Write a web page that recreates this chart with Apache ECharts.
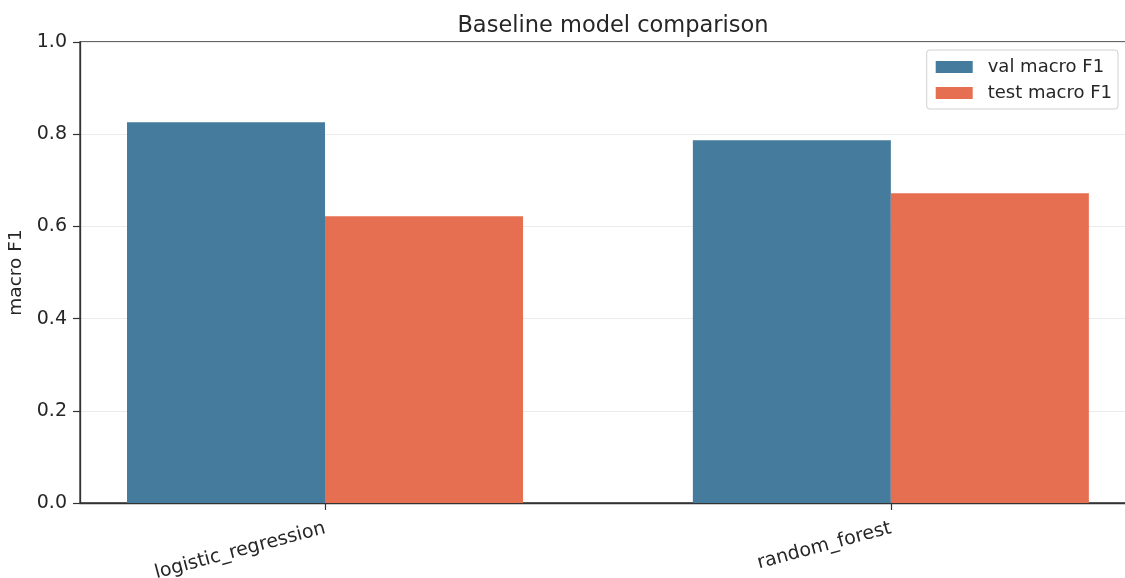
<!DOCTYPE html>
<html>
<head>
<meta charset="utf-8">
<script src="https://cdn.jsdelivr.net/npm/echarts@6/dist/echarts.min.js"></script>
<style>
html,body{margin:0;padding:0;background:#fff;}
#chart{width:1125px;height:578px;}
</style>
</head>
<body>
<div id="chart"></div>
<script>
var categories = ['logistic_regression', 'random_forest'];
var valMacroF1 = [0.826, 0.787];
var testMacroF1 = [0.622, 0.672];
var yTicks = [0.0, 0.2, 0.4, 0.6, 0.8, 1.0];
var seriesNames = ['val macro F1', 'test macro F1'];

var FONT = 'DejaVu Sans';
var TXT = '#262626';

function toPoints(arr) {
  return arr.map(function (v, i) { return [i, v]; });
}

var chart = echarts.init(document.getElementById('chart'), null, {renderer: 'canvas'});
chart.setOption({
  animation: false,
  backgroundColor: '#fff',
  title: {
    text: 'Baseline model comparison',
    left: 608, textAlign: 'center',
    top: 10,
    textStyle: {fontFamily: FONT, fontSize: 22.5, fontWeight: 'normal', color: TXT}
  },
  legend: {
    orient: 'vertical',
    right: 7, top: 50,
    data: seriesNames,
    itemWidth: 37, itemHeight: 12,
    itemGap: 8,
    icon: 'rect',
    padding: [8, 6, 7, 9],
    borderColor: '#d0d0d0', borderWidth: 1, borderRadius: 3,
    backgroundColor: 'rgba(255,255,255,0.8)',
    textStyle: {fontFamily: FONT, fontSize: 18, color: TXT, padding: [0, 0, 0, 10]}
  },
  grid: {
    left: 80, right: -12, top: 42, bottom: 75,
    outerBoundsMode: 'none',
    containLabel: false,
    show: true, borderColor: '#333', borderWidth: 1.3, backgroundColor: 'transparent'
  },
  xAxis: {
    type: 'value',
    min: -0.433, max: 1.435,
    axisLine: {show: true, onZero: false, lineStyle: {color: '#333', width: 1.3}},
    axisTick: {show: true, inside: false, customValues: [0, 1], length: 7, lineStyle: {color: '#333', width: 1.2}},
    axisLabel: {
      customValues: [0, 1],
      rotate: 15,
      margin: 25,
      fontFamily: FONT, fontSize: 19, color: TXT,
      formatter: function (v) { return categories[Math.round(v)]; }
    },
    splitLine: {show: false}
  },
  yAxis: {
    type: 'value',
    min: 0, max: 1.0, interval: 0.2,
    name: 'macro F1',
    nameLocation: 'middle',
    nameGap: 54,
    nameTextStyle: {fontFamily: FONT, fontSize: 18.5, color: TXT},
    axisLine: {show: true, onZero: false, lineStyle: {color: '#333', width: 1.3}},
    axisTick: {show: true, inside: false, length: 7, lineStyle: {color: '#333', width: 1.2}},
    axisLabel: {
      margin: 13,
      fontFamily: FONT, fontSize: 19, color: TXT,
      formatter: function (v) { return v.toFixed(1); }
    },
    splitLine: {show: true, lineStyle: {color: '#ebebeb', width: 1.2}}
  },
  series: [
    {
      name: seriesNames[0], type: 'bar',
      data: toPoints(valMacroF1),
      barWidth: 198, barGap: '0%',
      itemStyle: {color: '#457b9d'}
    },
    {
      name: seriesNames[1], type: 'bar',
      data: toPoints(testMacroF1),
      barWidth: 198, barGap: '0%',
      itemStyle: {color: '#e76f51'}
    }
  ]
});
</script>
</body>
</html>
